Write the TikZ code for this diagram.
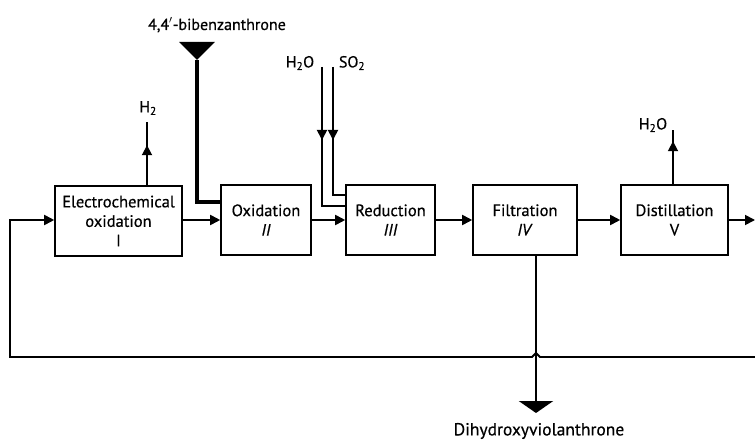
\documentclass[tikz,border=0pt]{standalone}
\usepackage{fontspec}
\setmainfont{PT Sans}[FakeBold=0.5]
\usetikzlibrary{arrows.meta,decorations.markings}
\tikzset{
  box/.style={draw, line width=1.6pt, inner sep=0pt, align=center, font=\fontsize{16.5}{19.5}\selectfont},
  flow/.style={line width=1.8pt},
  tipA/.style={-{Triangle[length=10pt,width=10pt]}},
  midtip/.style={postaction={decorate}, decoration={markings, mark=at position #1 with {\arrow{Triangle[length=10pt,width=10pt]}}}},
  lbl/.style={inner sep=0pt, font=\fontsize{16}{19}\selectfont},
  bigtip/.style={-{Triangle[length=18pt,width=35pt]}},
}
\begin{document}
\begin{tikzpicture}[x=1pt,y=-1pt]
\useasboundingbox (0,0) rectangle (755,441);
% boxes
\node[box, minimum width=127pt, minimum height=70pt] (E) at (118.5,221) {Electrochemical\\oxidation\\I};
\node[box, minimum width=90pt, minimum height=70pt] (Ox) at (266,220) {Oxidation\\\textit{II}};
\node[box, minimum width=89pt, minimum height=70pt] (Red) at (390.5,220) {Reduction\\\textit{III}};
\node[box, minimum width=104pt, minimum height=70pt] (Fil) at (525,220) {Filtration\\\textit{IV}};
\node[box, minimum width=107pt, minimum height=70pt] (Dist) at (674.5,220) {Distillation\\V};
% labels
\node[lbl] (bib) at (217,25) {4,4$'$-bibenzanthrone};
\node[lbl] (h2) at (148,108) {H\textsubscript{2}};
\node[lbl] (h2oA) at (300,63) {H\textsubscript{2}O};
\node[lbl] (so2) at (352,63) {SO\textsubscript{2}};
\node[lbl] (h2oB) at (653,125) {H\textsubscript{2}O};
\node[lbl, font=\fontsize{17.5}{20}\selectfont] (dhv) at (539,431) {Dihydroxyviolanthrone};
% coordinates
\coordinate (bibT) at (197,42);
\coordinate (bibB) at (197,60);
\coordinate (h2T) at (147,122);
\coordinate (h2oT) at (322,67);
\coordinate (so2T) at (333,67);
\coordinate (h2oBT) at (673,130);
\coordinate (outR) at (755,220);
\coordinate (loopR) at (755,357);
\coordinate (dhvT) at (536,413);
% main chain
\draw[flow,tipA] (E.east |- 0,220) -- (Ox.west);
\draw[flow,tipA] (Ox.east) -- (Red.west);
\draw[flow,tipA] (Red.east) -- (Fil.west);
\draw[flow,tipA] (Fil.east) -- (Dist.west);
\draw[flow,tipA] (Dist.east) -- (outR);
% gas outlets
\draw[flow,midtip=40pt] (E.north -| h2T) -- (h2T);
\draw[flow,midtip=43pt] (Dist.north -| h2oBT) -- (h2oBT);
% reduction inputs
\draw[flow,midtip=73pt] (h2oT) -- (322,206) -- (Red.west |- 0,206);
\draw[flow,midtip=73pt] (so2T) -- (333,195) -- (Red.west |- 0,195);
% bibenzanthrone feed
\draw[line width=4pt,bigtip] (bibT) -- (bibB);
\draw[line width=4pt] (bibB) -- (197,202) -- (Ox.west |- 0,202);
% recycle loop
\draw[flow,tipA] (loopR) -- (540,357) -- (536,353) -- (532,357) -- (10,357) |- (E.west |- 0,220);
% product
\draw[line width=2.8pt,-{Triangle[length=12pt,width=34pt]}] (Fil.south -| dhvT) -- (dhvT);
\end{tikzpicture}
\end{document}
